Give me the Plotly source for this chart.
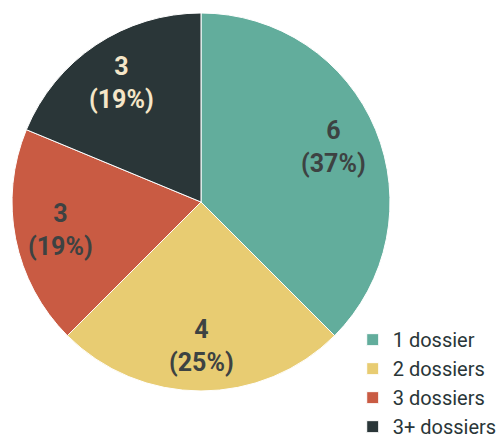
import math
import plotly.graph_objects as go

categories = ["1 dossier", "2 dossiers", "3 dossiers", "3+ dossiers"]
values = [6, 4, 3, 3]
pct_labels = ["37%", "25%", "19%", "19%"]
colors = ["#62ad9c", "#e8cc72", "#c95b43", "#2a3638"]
text_colors = ["#3d4242", "#3d4242", "#3d4242", "#f5e6c8"]

W, H = 501, 440
# pie placement (pixels)
left, right, top, bottom = 12, 390, 13, 391
cx, cy = (left + right) / 2, (top + bottom) / 2
R = (right - left) / 2
label_frac = 0.76

fig = go.Figure(go.Pie(
    labels=categories,
    values=values,
    textinfo="none",
    hoverinfo="label+value+percent",
    sort=False,
    direction="clockwise",
    rotation=0,
    marker=dict(colors=colors, line=dict(width=1, color="white")),
    domain=dict(x=[left / W, right / W], y=[1 - bottom / H, 1 - top / H]),
))

# labels placed at mid-angle of each slice, computed from the data
total = sum(values)
cum = 0
annotations = []
for v, p, tc in zip(values, pct_labels, text_colors):
    mid = (cum + v / 2) / total * 2 * math.pi
    cum += v
    px = cx + label_frac * R * math.sin(mid)
    py = cy - label_frac * R * math.cos(mid)
    annotations.append(dict(
        x=px / W, y=1 - py / H, xref="paper", yref="paper",
        text=f"{v}<br>({p})", showarrow=False,
        font=dict(family="Roboto", size=25, color=tc, weight="bold"),
        align="center", xanchor="center", yanchor="middle",
    ))

fig.update_layout(
    width=W, height=H,
    margin=dict(l=0, r=0, t=0, b=0, autoexpand=False),
    paper_bgcolor="white",
    plot_bgcolor="white",
    showlegend=True,
    annotations=annotations,
    legend=dict(
        x=0.704, y=-0.014, xanchor="left", yanchor="bottom",
        font=dict(family="Roboto", size=20, color="#2a3638"),
        bgcolor="rgba(0,0,0,0)",
        itemwidth=30,
    ),
)

fig.write_html("out.html", config={"displayModeBar": False},
               post_script="document.body.style.margin='0';")
